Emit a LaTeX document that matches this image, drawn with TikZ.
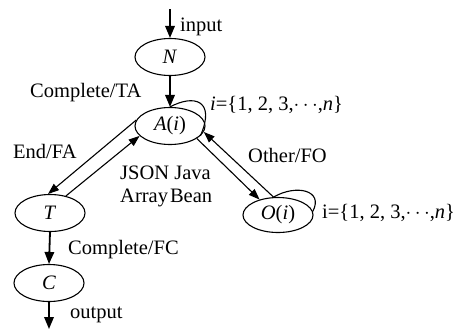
\documentclass[tikz,border=0pt]{standalone}
\usepackage{fontspec}
\setmainfont{Liberation Serif}
\usetikzlibrary{shapes.geometric,arrows.meta}
\begin{document}
\begin{tikzpicture}[x=1bp,y=-1bp,
  every node/.style={font=\fontsize{20.5bp}{23bp}\selectfont},
  st/.style={draw,ellipse,line width=1.1bp,minimum width=70bp,minimum height=37bp,inner sep=0pt},
  thick arrow/.style={line width=1.8bp,-{Triangle[length=12bp,width=9.5bp]}},
  thin arrow/.style={line width=1.1bp,-{Triangle[length=11bp,width=8bp]}},
  loopline/.style={line width=1.1bp},
  lbl/.style={anchor=base west,inner sep=0pt}]
\useasboundingbox (0,0) rectangle (454,329);
\node[st] (N) at (170,57) {\textit{N}};
\node[st] (A) at (170,126) {\textit{A}(\textit{i})};
\node[st] (T) at (50,213) {\textit{T}};
\node[st] (C) at (49,283) {\textit{C}};
\node[st,minimum height=35bp] (O) at (278,215) {\textit{O}(\textit{i})};
\coordinate (in) at (170,9);
\coordinate (out) at (49,329);
\draw[thick arrow] (in) -- (N.north);
\draw[thick arrow] (N.south) -- (A.north);
\draw[thick arrow] (T.south) -- (C.north);
\draw[thick arrow] (C.south) -- (out);
\draw[thin arrow] (A.170) -- (T.96);
\draw[thin arrow] (T.47) -- (A.198);
\draw[thin arrow] (A.-25) -- (O.140);
\draw[thin arrow] (O.104) -- (A.-10);
\draw[loopline] (A.north) .. controls (194,94) and (216,100) .. (A.-18);
\draw[loopline] (O.104) .. controls (296,184) and (324,190) .. (O.6);
\node[lbl] (l1) at (180,31) {input};
\node[lbl] (l2) at (30,97) {Complete/TA};
\node[lbl] (l3) at (210,110) {\textit{i}=\{1, 2, 3,$\cdots$,\textit{n}\}};
\node[lbl] (l4) at (13,158) {End/FA};
\node[lbl] (l5) at (120,179) {JSON Java};
\node[lbl] (l6) at (120,202) {Array\hspace{0.1em}Bean};
\node[lbl] (l7) at (248,162) {Other/FO};
\node[lbl] (l8) at (322,218) {i=\{1, 2, 3,$\cdots$,\textit{n}\}};
\node[lbl] (l9) at (68,254) {Complete/FC};
\node[lbl] (l10) at (70,318) {output};
\end{tikzpicture}
\end{document}
